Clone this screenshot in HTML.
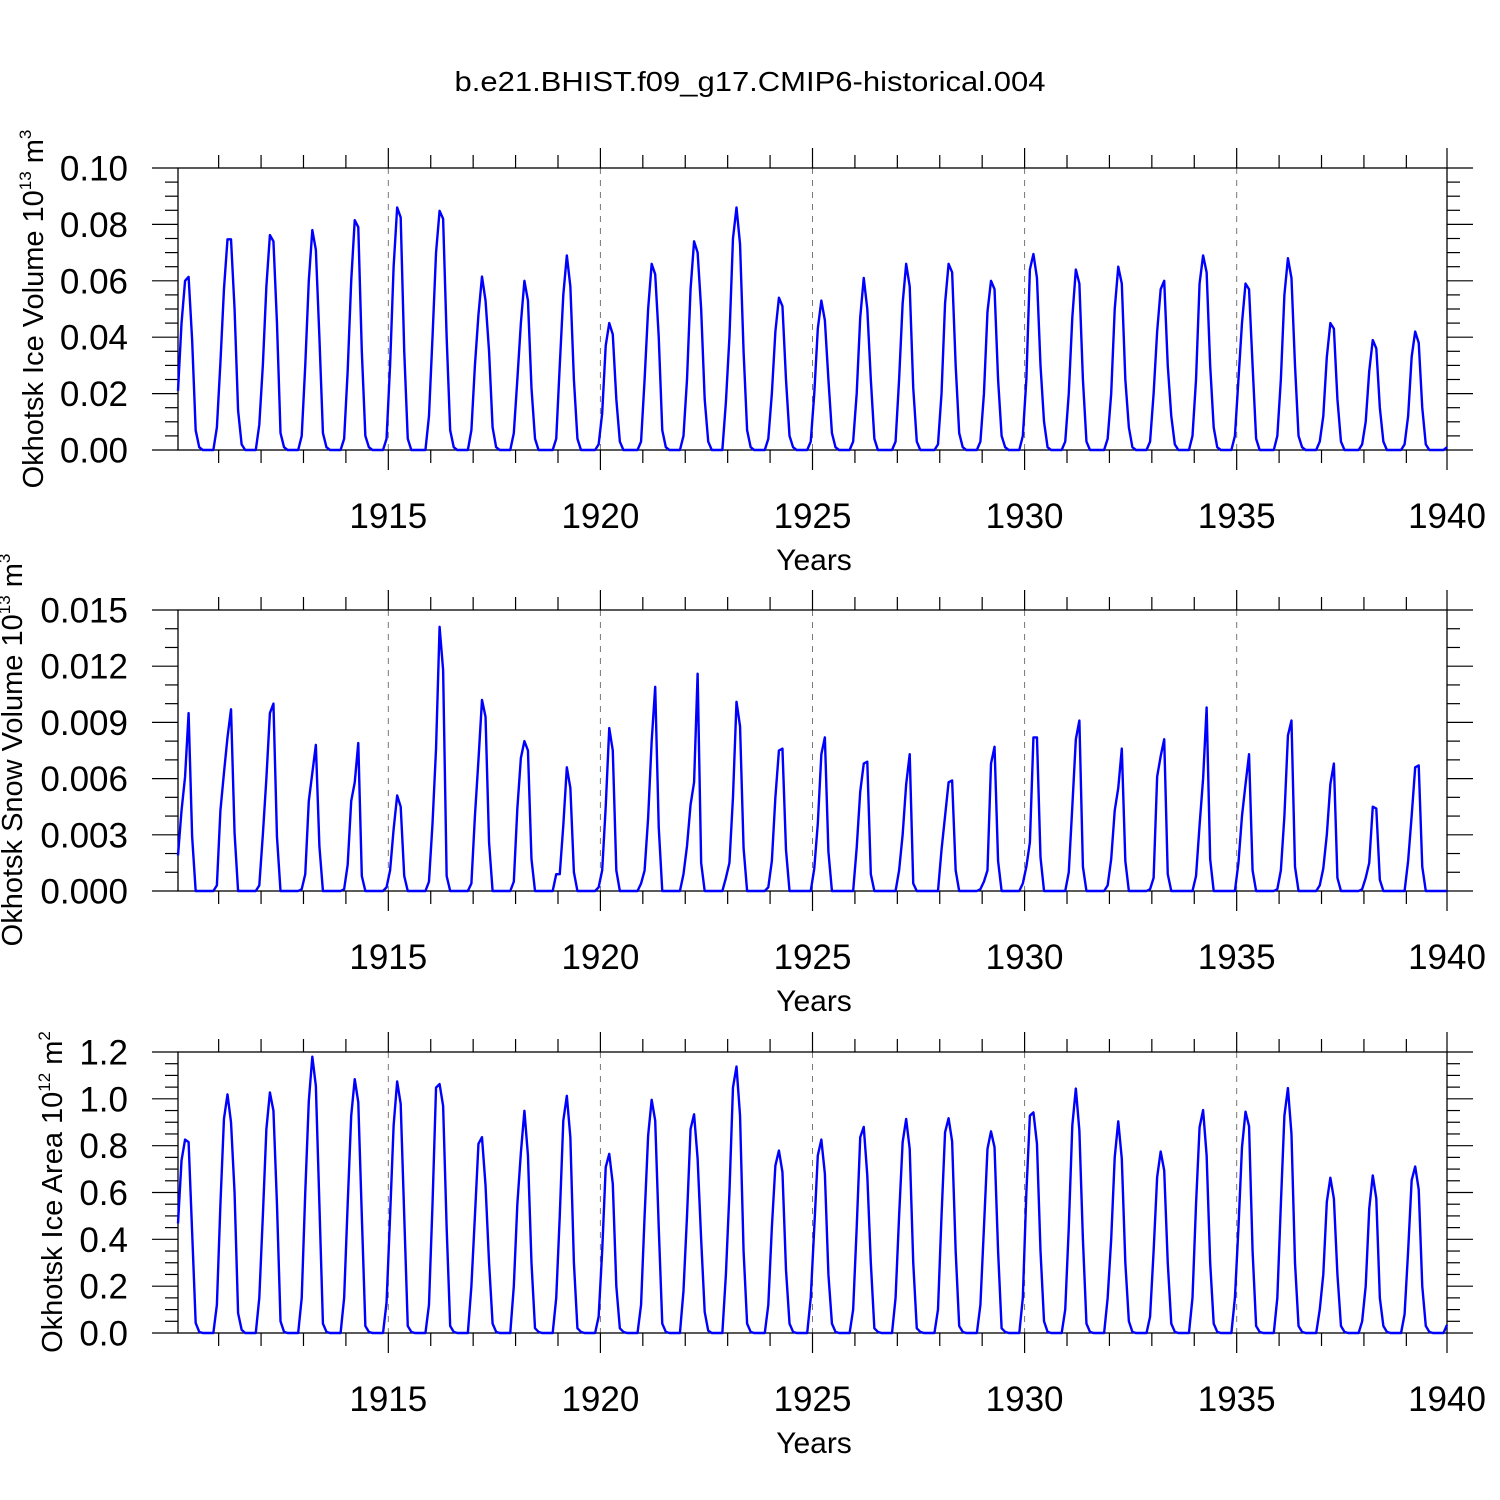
<!DOCTYPE html>
<html><head><meta charset="utf-8"><title>Okhotsk</title>
<style>html,body{margin:0;padding:0;background:#fff;}svg{display:block;font-family:"Liberation Sans",Arial,sans-serif;}</style>
</head><body>
<svg id="chart" width="1500" height="1500" viewBox="0 0 1500 1500" xmlns="http://www.w3.org/2000/svg">
<rect x="0" y="0" width="1500" height="1500" fill="#fff"/>
<text x="750" y="91" text-anchor="middle" font-size="28" textLength="591" lengthAdjust="spacingAndGlyphs">b.e21.BHIST.f09_g17.CMIP6-historical.004</text>
</svg>
<script>
const startYear = 1910;
const years = [1910,1911,1912,1913,1914,1915,1916,1917,1918,1919,1920,1921,1922,1923,1924,1925,1926,1927,1928,1929,1930,1931,1932,1933,1934,1935,1936,1937,1938,1939];
const xTickLabels = ["1915","1920","1925","1930","1935","1940"];
const iceVolume = [
.021,.045,.060,.0614,.039,.007,.001,0,0,0,0,.008,
.031,.057,.0747,.0747,.050,.014,.002,0,0,0,0,.009,
.030,.058,.0762,.074,.045,.006,.001,0,0,0,0,.005,
.030,.060,.078,.071,.040,.006,.001,0,0,0,0,.004,
.028,.060,.0815,.079,.035,.005,.001,0,0,0,0,.004,
.030,.065,.086,.0825,.035,.004,0,0,0,0,0,.012,
.040,.070,.0848,.082,.040,.007,.001,0,0,0,0,.007,
.030,.048,.0615,.053,.035,.008,.001,0,0,0,0,.006,
.025,.045,.060,.053,.022,.004,0,0,0,0,0,.004,
.030,.055,.069,.058,.025,.004,0,0,0,0,0,.002,
.013,.037,.045,.041,.018,.003,0,0,0,0,0,.003,
.025,.050,.066,.0623,.040,.007,.001,0,0,0,0,.005,
.025,.057,.074,.070,.050,.018,.003,0,0,0,0,.017,
.040,.075,.086,.073,.035,.007,.001,0,0,0,0,.004,
.020,.042,.054,.051,.025,.005,.001,0,0,0,0,.003,
.020,.043,.053,.046,.025,.006,.001,0,0,0,0,.003,
.020,.047,.061,.050,.025,.004,0,0,0,0,0,.003,
.025,.052,.066,.058,.022,.003,0,0,0,0,0,.002,
.020,.052,.066,.063,.030,.006,.001,0,0,0,0,.003,
.020,.049,.060,.057,.025,.005,.001,0,0,0,0,.005,
.025,.064,.0695,.061,.030,.010,.001,0,0,0,0,.003,
.020,.047,.064,.059,.025,.003,0,0,0,0,0,.004,
.020,.050,.065,.059,.025,.008,.001,0,0,0,0,.003,
.020,.042,.057,.060,.030,.012,.002,0,0,0,0,.005,
.025,.059,.069,.063,.030,.008,.001,0,0,0,0,.005,
.025,.045,.059,.057,.030,.004,0,0,0,0,0,.005,
.025,.055,.068,.061,.030,.005,.001,0,0,0,0,.003,
.012,.033,.045,.043,.018,.003,0,0,0,0,0,.002,
.010,.028,.039,.036,.015,.003,0,0,0,0,0,.002,
.012,.033,.042,.038,.015,.002,0,0,0,0,0,.001];
const snowVolume = [
.0019,.0043,.0061,.0095,.0029,0,0,0,0,0,0,.0003,
.0043,.0063,.0082,.0097,.0031,0,0,0,0,0,0,.0003,
.0030,.0060,.0095,.0100,.0029,0,0,0,0,0,0,.0001,
.0009,.0048,.0063,.0078,.0024,0,0,0,0,0,0,.0001,
.0014,.0048,.0058,.0079,.0008,0,0,0,0,0,0,.0002,
.0011,.0033,.0051,.0045,.0008,0,0,0,0,0,0,.0005,
.0036,.0076,.0141,.0118,.0008,0,0,0,0,0,0,.0004,
.0040,.0070,.0102,.0093,.0026,0,0,0,0,0,0,.0005,
.0044,.0071,.0080,.0075,.0017,0,0,0,0,0,0,.0009,
.0009,.0035,.0066,.0055,.0010,0,0,0,0,0,0,.0002,
.0011,.0045,.0087,.0075,.0011,0,0,0,0,0,0,.0004,
.0011,.0039,.0080,.0109,.0034,0,0,0,0,0,0,.0009,
.0024,.0046,.0058,.0116,.0015,0,0,0,0,0,0,.0007,
.0015,.0050,.0101,.0088,.0023,0,0,0,0,0,0,.0002,
.0016,.0050,.0075,.0076,.0022,0,0,0,0,0,0,0,
.0012,.0036,.0073,.0082,.0021,0,0,0,0,0,0,0,
.0023,.0053,.0068,.0069,.0009,0,0,0,0,0,0,0,
.0011,.0030,.0057,.0073,.0004,0,0,0,0,0,0,0,
.0022,.0040,.0058,.0059,.0011,0,0,0,0,0,0,.0001,
.0005,.0011,.0068,.0077,.0016,0,0,0,0,0,0,.0004,
.0013,.0026,.0082,.0082,.0018,0,0,0,0,0,0,0,
.0010,.0045,.0081,.0091,.0013,0,0,0,0,0,0,.0003,
.0017,.0043,.0055,.0076,.0016,0,0,0,0,0,0,.0001,
.0007,.0061,.0072,.0081,.0009,0,0,0,0,0,0,0,
.0008,.0035,.0060,.0098,.0017,0,0,0,0,0,0,0,
.0015,.0040,.0057,.0073,.0011,0,0,0,0,0,0,.0001,
.0011,.0040,.0083,.0091,.0013,0,0,0,0,0,0,.0003,
.0012,.0030,.0057,.0068,.0007,0,0,0,0,0,0,.0001,
.0007,.0015,.0045,.0044,.0006,0,0,0,0,0,0,0,
.0016,.0040,.0066,.0067,.0013,0,0,0,0,0,0,0];
const iceArea = [
.468,.737,.826,.815,.43,.043,.005,0,0,0,0,.12,
.55,.914,1.019,.90,.60,.085,.014,0,0,0,0,.15,
.50,.87,1.027,.949,.55,.05,.005,0,0,0,0,.15,
.60,.99,1.18,1.055,.55,.04,.005,0,0,0,0,.15,
.55,.928,1.084,.985,.50,.03,.005,0,0,0,0,.13,
.50,.886,1.074,.978,.50,.03,.005,0,0,0,0,.12,
.55,1.048,1.063,.97,.45,.03,.005,0,0,0,0,.20,
.50,.808,.836,.63,.30,.04,.005,0,0,0,0,.20,
.55,.77,.949,.758,.30,.02,.005,0,0,0,0,.15,
.50,.907,1.013,.836,.30,.02,.005,0,0,0,0,.07,
.35,.708,.765,.638,.20,.02,.005,0,0,0,0,.12,
.50,.843,.996,.907,.45,.04,.005,0,0,0,0,.18,
.50,.871,.934,.744,.40,.09,.01,0,0,0,0,.25,
.60,1.048,1.138,.928,.35,.04,.005,0,0,0,0,.12,
.45,.715,.779,.687,.27,.04,.005,0,0,0,0,.15,
.45,.758,.826,.68,.25,.04,.005,0,0,0,0,.10,
.45,.836,.88,.673,.30,.02,.005,0,0,0,0,.15,
.50,.815,.914,.786,.30,.02,.005,0,0,0,0,.10,
.50,.857,.917,.818,.35,.03,.005,0,0,0,0,.12,
.45,.786,.861,.793,.35,.02,.005,0,0,0,0,.15,
.60,.928,.942,.808,.35,.05,.005,0,0,0,0,.10,
.45,.886,1.044,.864,.40,.04,.005,0,0,0,0,.15,
.40,.751,.904,.744,.30,.05,.005,0,0,0,0,.07,
.35,.666,.775,.694,.30,.04,.005,0,0,0,0,.15,
.55,.878,.952,.758,.30,.04,.005,0,0,0,0,.15,
.45,.793,.945,.883,.35,.03,.005,0,0,0,0,.15,
.55,.928,1.046,.85,.30,.03,.005,0,0,0,0,.10,
.25,.56,.663,.574,.25,.03,.005,0,0,0,0,.05,
.20,.531,.673,.574,.15,.03,.005,0,0,0,0,.08,
.35,.652,.711,.613,.20,.03,.005,0,0,0,0,.035];
const volTicks = ["0.00","0.02","0.04","0.06","0.08","0.10"];
const snowTicks = ["0.000","0.003","0.006","0.009","0.012","0.015"];
const areaTicks = ["0.0","0.2","0.4","0.6","0.8","1.0","1.2"];

const NS = "http://www.w3.org/2000/svg";
const svg = document.getElementById("chart");
const X0 = 178, X1 = 1447;
const T0 = startYear + 1/24, T1 = startYear + years.length - 1/24;
function xScale(t){ return X0 + (t - T0) / (T1 - T0) * (X1 - X0); }
function mk(tag, attrs, parent){
  const e = document.createElementNS(NS, tag);
  for (const k in attrs) e.setAttribute(k, attrs[k]);
  (parent || svg).appendChild(e);
  return e;
}

function panel(cfg){
  const g = mk("g", {});
  
  
  const top = cfg.top, bot = cfg.bottom;
  function yScale(v){ return bot - (v - cfg.min) / (cfg.max - cfg.min) * (bot - top); }
  for (let yr = 1915; yr <= 1935; yr += 5){
    const gl = mk("line", {x1:xScale(yr), x2:xScale(yr), y1:top, y2:bot, stroke:"#777", "stroke-width":1, "stroke-dasharray":"6,6"}, g);
    
    
  }
  for (let yr = startYear + 1; yr <= startYear + years.length; yr++){
    const major = yr % 5 === 0;
    const L = major ? 20 : 13;
    const xx = Math.min(xScale(yr), X1);
    const t1 = mk("line", {x1:xx, x2:xx, y1:top, y2:top-L, stroke:"#000", "stroke-width":1.2}, g);
    
    
    const t2 = mk("line", {x1:xx, x2:xx, y1:bot, y2:bot+L, stroke:"#000", "stroke-width":1.2}, g);
    
    
  }
  xTickLabels.forEach(function(lab){
    const xx = Math.min(xScale(parseFloat(lab)), X1);
    const tx = mk("text", {x:xx, y:bot+78, "text-anchor":"middle", "font-size":35}, g);
    tx.textContent = lab;
    
    
  });
  const xt = mk("text", {x:814, y:bot+120, "text-anchor":"middle", "font-size":30}, g);
  xt.textContent = "Years";
  
  
  const nMinor = Math.round((cfg.max - cfg.min) / cfg.minor);
  for (let i = 0; i <= nMinor; i++){
    const v = cfg.min + i * cfg.minor;
    const major = i % cfg.per === 0;
    const L = major ? 26 : 13;
    const yy = yScale(v);
    const a = mk("line", {x1:X0, x2:X0-L, y1:yy, y2:yy, stroke:"#000", "stroke-width":1.2}, g);
    
    
    const b = mk("line", {x1:X1, x2:X1+L, y1:yy, y2:yy, stroke:"#000", "stroke-width":1.2}, g);
    
    
  }
  cfg.ticks.forEach(function(lab){
    const tx = mk("text", {x:128, y:yScale(parseFloat(lab))+12.5, "text-anchor":"end", "font-size":35}, g);
    tx.textContent = lab;
    
    
  });
  const fr = mk("rect", {x:X0, y:top, width:X1-X0, height:bot-top, fill:"none", stroke:"#000", "stroke-width":1.3}, g);
  
  
  let d = "";
  cfg.data.forEach(function(v, i){
    const t = startYear + (i + 0.5) / 12;
    d += (i ? "L" : "M") + xScale(t).toFixed(2) + "," + yScale(v).toFixed(2);
  });
  const p = mk("path", {d:d, fill:"none", stroke:"#0000ff", "stroke-width":2.4, "stroke-linejoin":"round"}, g);
  
  
  const cy = cfg.titleY;
  const yt = mk("text", {x:cfg.titleX, y:cy, "text-anchor":"middle", "font-size":29, transform:"rotate(-90 " + cfg.titleX + " " + cy + ")"}, g);
  
  
  const s1 = mk("tspan", {}, yt); s1.textContent = cfg.title + " 10";
  const s2 = mk("tspan", {"font-size":17, dy:-12}, yt); s2.textContent = cfg.exp;
  const s3 = mk("tspan", {dy:12}, yt); s3.textContent = " m";
  const s4 = mk("tspan", {"font-size":17, dy:-12}, yt); s4.textContent = cfg.unitExp;
}

panel({name:"ice-volume-panel", series:"ice-volume-line", top:168, bottom:450, min:0, max:0.10, minor:0.005, per:4, ticks:volTicks, data:iceVolume, title:"Okhotsk Ice Volume", exp:"13", unitExp:"3", titleX:43, titleY:309});
panel({name:"snow-volume-panel", series:"snow-volume-line", top:610, bottom:891, min:0, max:0.015, minor:0.001, per:3, ticks:snowTicks, data:snowVolume, title:"Okhotsk Snow Volume", exp:"13", unitExp:"3", titleX:22, titleY:750});
panel({name:"ice-area-panel", series:"ice-area-line", top:1052, bottom:1333, min:0, max:1.2, minor:0.05, per:4, ticks:areaTicks, data:iceArea, title:"Okhotsk Ice Area", exp:"12", unitExp:"2", titleX:62, titleY:1192});
</script>
</body></html>
